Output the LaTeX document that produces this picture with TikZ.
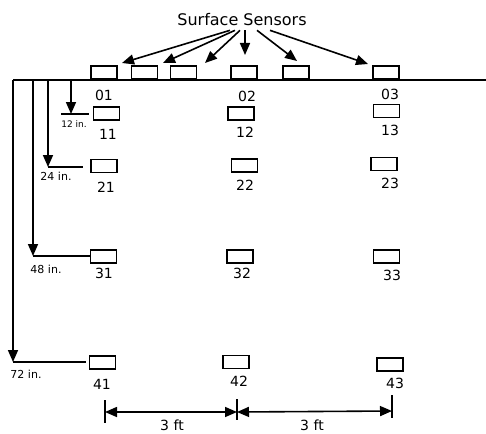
\documentclass[tikz,border=0pt]{standalone}
\usepackage{fontspec}
\setmainfont{DejaVu Sans}
\usetikzlibrary{arrows.meta}

\begin{document}
\begin{tikzpicture}[x=1pt,y=-1pt,line width=1.6pt,
  box/.style={draw,line width=1.8pt,minimum width=26pt,minimum height=13pt,inner sep=0pt},
  num/.style={font=\fontsize{14}{14}\selectfont,inner sep=0pt},
  dep/.style={font=\fontsize{11}{11}\selectfont,inner sep=0pt},
  tip/.style={-{Triangle[length=12pt,width=10pt]}},
  twotip/.style={{Triangle[length=12pt,width=10pt]}-{Triangle[length=12pt,width=10pt]}}]
  \useasboundingbox (0,0) rectangle (486,433);
  % ground and surface sensors
  \coordinate (G0) at (13,80); \coordinate (G1) at (486,80);
  \draw (G0)--(G1);
  \node[font=\fontsize{16}{16}\selectfont] (ss) at (242,20) {Surface Sensors};
  \node[box,anchor=south] (s01) at (104,80) {}; \node[box,anchor=south] (sa) at (144.5,80) {};
  \node[box,anchor=south] (sb) at (183.5,80) {}; \node[box,anchor=south] (s02) at (244,80) {};
  \node[box,anchor=south] (sc) at (296,80) {}; \node[box,anchor=south] (s03) at (386,80) {};
  \coordinate (t1) at (122,63); \coordinate (t2) at (163,63); \coordinate (t3) at (205,63);
  \coordinate (t4) at (245,55); \coordinate (t5) at (297,61); \coordinate (t6) at (368,64);
  \draw[tip] ([xshift=-12pt]ss.south)--(t1); \draw[tip] ([xshift=-7pt]ss.south)--(t2);
  \draw[tip] ([xshift=-2pt]ss.south)--(t3); \draw[tip] ([xshift=3pt]ss.south)--(t4);
  \draw[tip] ([xshift=15pt]ss.south)--(t5); \draw[tip] ([xshift=28pt]ss.south)--(t6);
  \node[num] (l01) at (104,95) {01}; \node[num] (l02) at (247,96) {02}; \node[num] (l03) at (390,94) {03};
  % buried sensors
  \node[box] (b11) at (106.5,113.5) {}; \node[box] (b12) at (241,113.5) {}; \node[box] (b13) at (386.5,111) {};
  \node[box] (b21) at (104,166) {}; \node[box] (b22) at (244.5,165.5) {}; \node[box] (b23) at (384,164) {};
  \node[box] (b31) at (103.5,256.5) {}; \node[box] (b32) at (240,256.5) {}; \node[box] (b33) at (386.5,256.5) {};
  \node[box] (b41) at (102.5,362.5) {}; \node[box] (b42) at (236,362) {}; \node[box] (b43) at (390,364.5) {};
  \node[num] (l11) at (108,134) {11}; \node[num] (l12) at (245,132) {12}; \node[num] (l13) at (390,130) {13};
  \node[num] (l21) at (106,187) {21}; \node[num] (l22) at (245,185) {22}; \node[num] (l23) at (390,183) {23};
  \node[num] (l31) at (104,273) {31}; \node[num] (l32) at (242,273) {32}; \node[num] (l33) at (392,275) {33};
  \node[num] (l41) at (102,384) {41}; \node[num] (l42) at (239,381) {42}; \node[num] (l43) at (395,383) {43};
  % depths
  \coordinate (d1) at (71,80); \coordinate (e1) at (71,114);
  \coordinate (d2) at (48,80); \coordinate (e2) at (48,167);
  \coordinate (d3) at (33,80); \coordinate (e3) at (33,256);
  \coordinate (e4) at (13,362);
  \draw[tip] (d1)--(e1); \draw[tip] (d2)--(e2); \draw[tip] (d3)--(e3); \draw[tip] (G0)--(e4);
  \coordinate (h1) at (61,114); \coordinate (h2) at (89,114);
  \draw (h1)--(h2); \draw (e2)--(83,167); \draw (e3)--(b31.west |- e3); \draw (e4)--(86,362);
  \node[font=\fontsize{9}{9}\selectfont,inner sep=0pt] (i12) at (74,124) {12 in.};
  \node[dep] (i24) at (56,176) {24 in.}; \node[dep] (i48) at (46,269) {48 in.}; \node[dep] (i72) at (26,374) {72 in.};
  % spacing
  \coordinate (k1) at (105,412); \coordinate (k2) at (237,412); \coordinate (k3) at (392,411);
  \draw ([yshift=12pt]k1)--([yshift=-11pt]k1); \draw ([yshift=13pt]k2)--([yshift=-8pt]k2);
  \draw ([yshift=16pt]k3)--([yshift=-7pt]k3);
  \draw[twotip] (k1)--(k2); \draw[twotip] (k2)--(k3);
  \node[num] (f1) at (172,425) {3 ft}; \node[num] (f2) at (312,425) {3 ft};
\end{tikzpicture}
\end{document}
